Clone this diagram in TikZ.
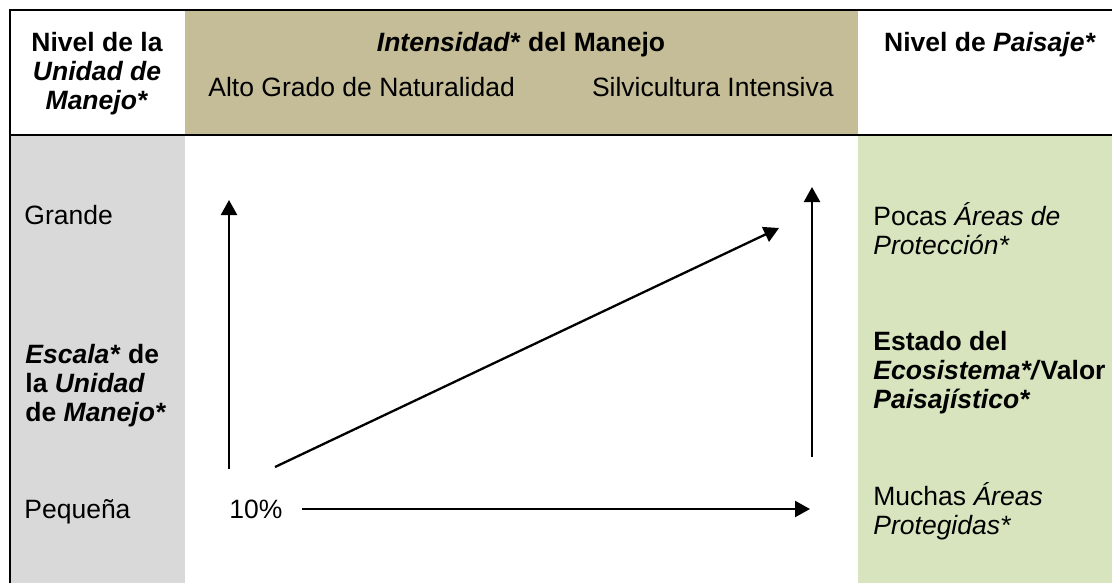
\documentclass[tikz,border=0pt]{standalone}
\usepackage{fontspec}
\setmainfont{Liberation Sans}
\usetikzlibrary{arrows.meta,positioning}
\definecolor{headtan}{HTML}{C4BD97}
\definecolor{sidegrey}{HTML}{D9D9D9}
\definecolor{sidegreen}{HTML}{D7E4BD}

\begin{document}
\begin{tikzpicture}[x=0.5pt, y=-0.5pt,
		txt/.style={inner sep=0pt, font=\fontsize{13.25}{14.5}\selectfont},
		boldtxt/.style={txt, font=\fontsize{13.25}{14.5}\selectfont\bfseries},
		frame/.style={line width=1.35pt},
		arr/.style={-{Triangle[length=7.5pt,width=8pt]}, line width=1.15pt}]
			\useasboundingbox (0,0) rectangle (1112,583);
			% cells
			\fill[headtan] (185,10) rectangle (858,135);
			\fill[sidegrey] (10,135) rectangle (185,583);
			\fill[sidegreen] (858,135) rectangle (1112,583);
			\draw[frame] (10,583) -- (10,10) -- (1112,10);
			\draw[frame] (10,135) -- (1112,135);
			
			% header (multi-line nodes sit on their last line)
			\node (unitlevel) [boldtxt, align=center, anchor=base] at (97,110) {Nivel de la\\\textit{Unidad de}\\\textit{Manejo*}};
			\node (intensity) [boldtxt, anchor=base] at (521,52) {\textit{Intensidad*} del Manejo};
			\node (natural) [txt, anchor=base west] at (208,97) {Alto Grado de Naturalidad};
			\node (silvi) [txt, anchor=base east] at (834,97) {Silvicultura Intensiva};
			\node (landscape) [boldtxt, anchor=base] at (990,52) {Nivel de \textit{Paisaje*}};
			
			% left column
			\node (large) [txt, anchor=base west] at (24,224) {Grande};
			\node (scale) [boldtxt, align=left, anchor=base west] at (25,421) {\textit{Escala*} de\\la \textit{Unidad}\\de \textit{Manejo*}};
			\node (small) [txt, anchor=base west] at (24,518) {Pequeña};
			\node (pct) [txt, anchor=base west] at (229,518) {10\%};
			
			% right column
			\node (few) [txt, align=left, anchor=base west] at (873,254) {Pocas \textit{Áreas de}\\\textit{Protección*}};
			\node (state) [boldtxt, align=left, anchor=base west] at (873,408) {Estado del\\\textit{Ecosistema*/}Valor\\\textit{Paisajístico*}};
			\node (many) [txt, align=left, anchor=base west] at (873,534) {Muchas \textit{Áreas}\\\textit{Protegidas*}};
			
			% arrows
			\coordinate (lbot) at (229,469);
			\coordinate (ltop) at (229,200);
			\coordinate (dbot) at (275,467);
			\coordinate (dtop) at (779,228);
			\coordinate (hleft) at (302,509);
			\coordinate (hright) at (810,509);
			\coordinate (rbot) at (812,457);
			\coordinate (rtop) at (812,187);
			\draw[arr] (lbot) -- (ltop);
			\draw[arr] (dbot) -- (dtop);
			\draw[arr] (hleft) -- (hright);
			\draw[arr] (rbot) -- (rtop);
		\end{tikzpicture}
\end{document}
